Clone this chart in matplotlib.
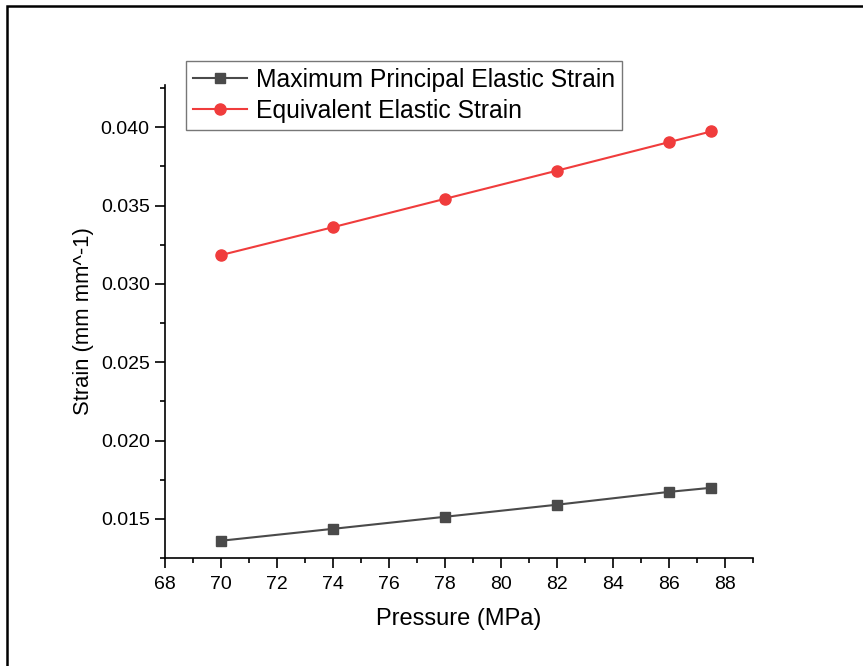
import matplotlib.pyplot as plt
from matplotlib.patches import Rectangle
from matplotlib.ticker import MultipleLocator

pressure = [70, 74, 78, 82, 86, 87.5]
max_principal = [0.01360, 0.01436, 0.01513, 0.01590, 0.01672, 0.01698]
equivalent = [0.03184, 0.03362, 0.03543, 0.03723, 0.03905, 0.03973]

plt.rcParams['font.family'] = ['Liberation Sans', 'DejaVu Sans']

fig = plt.figure(figsize=(8.63, 6.66), dpi=100)
ax = fig.add_axes([0.1912, 0.1622, 0.6813, 0.7102])

ax.plot(pressure, max_principal, color='#4a4a4a', marker='s', markersize=7, lw=1.5,
        label='Maximum Principal Elastic Strain')
ax.plot(pressure, equivalent, color='#f03c3c', marker='o', markersize=8, lw=1.5,
        label='Equivalent Elastic Strain')

ax.set_xlim(68, 89)
ax.set_ylim(0.0125, 0.0427)
ax.xaxis.set_major_locator(MultipleLocator(2))
ax.xaxis.set_minor_locator(MultipleLocator(1))
ax.yaxis.set_major_locator(MultipleLocator(0.005))
ax.yaxis.set_minor_locator(MultipleLocator(0.0025))
ax.yaxis.set_major_formatter(plt.FormatStrFormatter('%.3f'))

for s in ['top', 'right']:
    ax.spines[s].set_visible(False)
for s in ['left', 'bottom']:
    ax.spines[s].set_linewidth(1.2)
ax.tick_params(which='major', direction='out', length=7, width=1.2, labelsize=14)
ax.tick_params(axis='y', which='major', pad=4)
ax.tick_params(axis='x', which='major', pad=6)
ax.tick_params(which='minor', direction='out', length=3.5, width=1.2)

ax.set_xlabel('Pressure (MPa)', fontsize=17, labelpad=11)
ax.set_ylabel('Strain (mm mm^-1)', fontsize=15.8, labelpad=4.5)

leg = ax.legend(loc='upper left', bbox_to_anchor=(0.0359, 1.0507), fontsize=17.8,
                frameon=True, fancybox=False, borderpad=0.27, labelspacing=0.3,
                handlelength=2.2, handletextpad=0.37, borderaxespad=0)
leg.get_frame().set_edgecolor('#555555')
leg.get_frame().set_linewidth(1.0)

fig.patches.append(Rectangle((7 / 863, -0.05), 1.2, 1 - 6 / 666 + 0.05,
                             transform=fig.transFigure, fill=False,
                             edgecolor='black', lw=1.8))

fig.savefig('out.png', dpi=100)
